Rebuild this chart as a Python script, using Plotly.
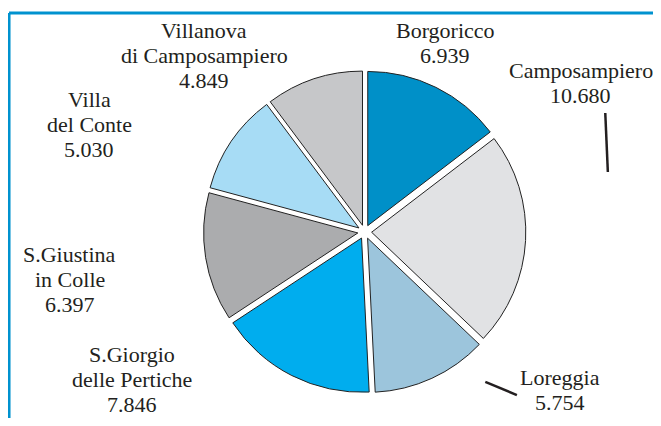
import plotly.graph_objects as go

# --- data ---
comuni = ["Borgoricco", "Camposampiero", "Loreggia", "S.Giorgio<br>delle Pertiche",
          "S.Giustina<br>in Colle", "Villa<br>del Conte", "Villanova<br>di Camposampiero"]
abitanti = [6939, 10680, 5754, 7846, 6397, 5030, 4849]

# --- style / layout ---
colori = ["#0090C8", "#E1E2E4", "#9CC5DC", "#00ADEE", "#ABACAE", "#A7DCF5", "#C6C7C9"]
label_pos = [(0.678, 0.915), (0.888, 0.817), (0.856, 0.068), (0.192, 0.094),
             (0.096, 0.337), (0.126, 0.715), (0.304, 0.883)]
line_step = 25 / 410
serif = "Liberation Serif"
ink = "#231F20"

fig = go.Figure(go.Pie(
    labels=comuni,
    values=abitanti,
    sort=False,
    direction="clockwise",
    rotation=0,
    pull=0.045,
    automargin=False,
    marker=dict(colors=colori, line=dict(color="#222222", width=1)),
    textinfo="none",
    hoverinfo="label+value",
    showlegend=False,
    domain=dict(x=[0.303, 0.803], y=[0.061, 0.847]),
))

annotations = []
for nome, val, (px, py) in zip(comuni, abitanti, label_pos):
    righe = nome.split("<br>") + [f"{val:,}".replace(",", ".")]
    n = len(righe)
    for i, riga in enumerate(righe):
        annotations.append(dict(xref="paper", yref="paper", x=px,
                                y=py + ((n - 1) / 2 - i) * line_step, text=riga,
                                showarrow=False, xanchor="center", yanchor="middle",
                                align="center", font=dict(family=serif, size=22, color=ink)))

fig.update_layout(
    width=645, height=410,
    autosize=False,
    font=dict(family=serif, size=22, color=ink),
    margin=dict(l=0, r=0, t=0, b=0, pad=0, autoexpand=False),
    paper_bgcolor="white",
    separators=",.",
    annotations=annotations,
    shapes=[dict(type="line", xref="paper", yref="paper",
                 x0=0.0016, x1=1.05, y0=0.988, y1=0.988,
                 line=dict(color="#0092CF", width=3)),
            dict(type="line", xref="paper", yref="paper",
                 x0=0.0016, x1=0.0016, y0=-0.05, y1=0.988,
                 line=dict(color="#0092CF", width=3)),
            dict(type="line", xref="paper", yref="paper",
                 x0=0.926, y0=0.744, x1=0.930, y1=0.600,
                 line=dict(color=ink, width=2.5)),
            dict(type="line", xref="paper", yref="paper",
                 x0=0.740, y0=0.088, x1=0.789, y1=0.056,
                 line=dict(color=ink, width=2.5))],
)

fig.write_html("out.html")
